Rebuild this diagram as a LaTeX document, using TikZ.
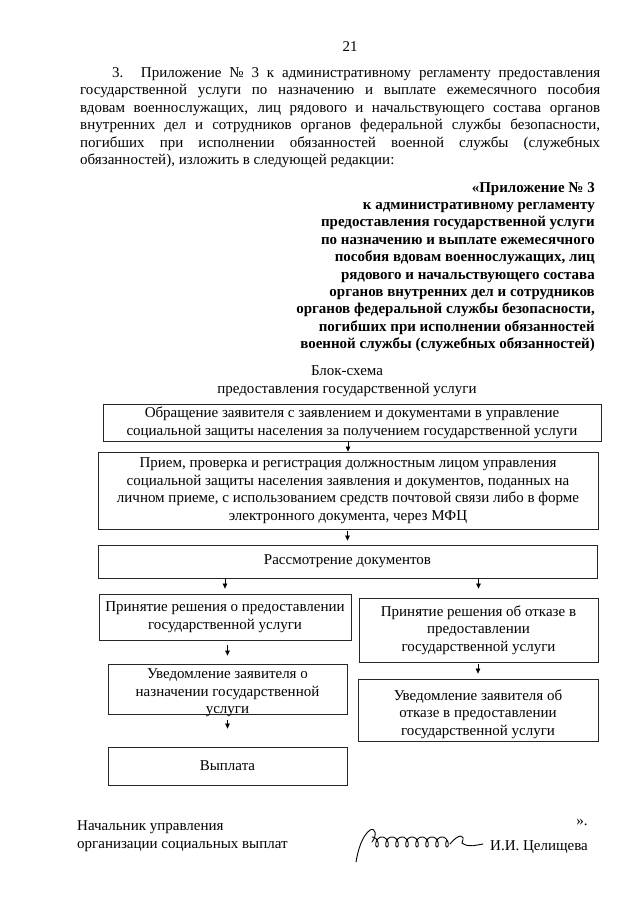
\documentclass[tikz,border=0pt]{standalone}
\usepackage{fontspec}
\setmainfont{Liberation Serif}
\usetikzlibrary{arrows.meta}
\newcommand\bodyfs{\fontsize{15}{17.5}\selectfont}
\newcommand\boldfs{\fontsize{15}{17.4}\selectfont\bfseries}
\begin{document}
\begin{tikzpicture}[x=1pt,y=-1pt,
  box/.style={draw=black!85, line width=0.8pt, inner sep=0pt, align=center, font=\bodyfs},
  plain/.style={inner sep=0pt, font=\bodyfs},
  arr/.style={-{Triangle[length=5pt,width=4.5pt]}, line width=0.6pt}]
\fill[white] (0,0) rectangle (640,905);
\useasboundingbox (0,0) rectangle (640,905);

% page number
\node[plain] (pnum) at (350,47) {21};

% introductory paragraph
\node[plain, anchor=north west, align=left] (para) at (80,67) {%
\hspace*{32pt}\makebox[488pt][s]{3. Приложение № 3 к административному регламенту предоставления}\\
\makebox[520pt][s]{государственной услуги по назначению и выплате ежемесячного пособия}\\
\makebox[520pt][s]{вдовам военнослужащих, лиц рядового и начальствующего состава органов}\\
\makebox[520pt][s]{внутренних дел и сотрудников органов федеральной службы безопасности,}\\
\makebox[520pt][s]{погибших при исполнении обязанностей военной службы (служебных}\\
обязанностей), изложить в следующей редакции:};

% appendix heading (bold, right aligned)
\node[inner sep=0pt, font=\boldfs, anchor=north east, align=right] (app) at (595,182) {%
«Приложение № 3\\
к административному регламенту\\
предоставления государственной услуги\\
по назначению и выплате ежемесячного\\
пособия вдовам военнослужащих, лиц\\
рядового и начальствующего состава\\
органов внутренних дел и сотрудников\\
органов федеральной службы безопасности,\\
погибших при исполнении обязанностей\\
военной службы (служебных обязанностей)};

% diagram title
\node[plain, align=center] (title) at (347,381) {Блок-схема\\предоставления государственной услуги};

% boxes
\node[box, minimum width=498pt, minimum height=37pt] (b1) at (352,422.5)
  {Обращение заявителя с заявлением и документами в управление\\социальной защиты населения за получением государственной услуги};
\node[box, minimum width=500pt, minimum height=77pt] (b2) at (348,490.5)
  {Прием, проверка и регистрация должностным лицом управления\\социальной защиты населения заявления и документов, поданных на\\личном приеме, с использованием средств почтовой связи либо в форме\\электронного документа, через МФЦ};
\node[box, minimum width=499pt, minimum height=33pt] (b3) at (347.5,561.5)
  {Рассмотрение документов};
\node[box, minimum width=252pt, minimum height=46pt] (b4L) at (225,617)
  {Принятие решения о предоставлении\\государственной услуги};
\node[box, minimum width=239pt, minimum height=64pt] (b4R) at (478.5,630)
  {Принятие решения об отказе в\\предоставлении\\государственной услуги};
\node[box, minimum width=239pt, minimum height=50pt] (b5L) at (227.5,689) {};
\node[plain, align=center] (t5L) at ([yshift=-4pt]b5L.center)
  {Уведомление заявителя о\\назначении государственной\\услуги};
\node[box, minimum width=240pt, minimum height=62pt] (b5R) at (478,710) {};
\node[plain, align=center] (t5R) at ([yshift=-4pt]b5R.center)
  {Уведомление заявителя об\\отказе в предоставлении\\государственной услуги};
\node[box, minimum width=239pt, minimum height=38pt] (b6L) at (227.5,766)
  {Выплата};

% connectors
\draw[arr] (b1.south -| b2.north) -- (b2.north);
\draw[arr, shorten <=2pt, shorten >=4pt] (b2.south -| b3.north) -- (b3.north);
\draw[arr, shorten >=5pt] (b3.south -| b4L.north) -- (b4L.north);
\draw[arr, shorten >=9pt] (b3.south -| b4R.north) -- (b4R.north);
\draw[arr, shorten <=5pt, shorten >=8pt] (b4L.south -| b5L.north) -- (b5L.north);
\draw[arr, shorten <=2pt, shorten >=5pt] (b4R.south -| b5R.north) -- (b5R.north);
\draw[arr, shorten <=6pt, shorten >=18pt] (b5L.south -| b6L.north) -- (b6L.north);

% closing quote
\node[plain] (close) at (582,822) {».};

% footer
\node[plain, anchor=west, align=left] (post) at (77,836) {Начальник управления\\организации социальных выплат};
\node[plain, anchor=west] (name) at (490,847) {И.И. Целищева};

% signature
\draw[line width=0.9pt, line cap=round] (356,862) .. controls (358,850) and (362,836) .. (370,830)
  .. controls (376,827) and (377,836) .. (372,842);
\draw[line width=0.9pt, line cap=round, smooth, domain=0:78, samples=200]
  plot ({372+\x+3.4*sin(\x*36)}, {842-5*cos(\x*36)});
\draw[line width=0.9pt, line cap=round] (450,844) .. controls (458,834) and (466,833) .. (462,843)
  .. controls (469,848) and (476,845) .. (483,844);
\end{tikzpicture}
\end{document}
